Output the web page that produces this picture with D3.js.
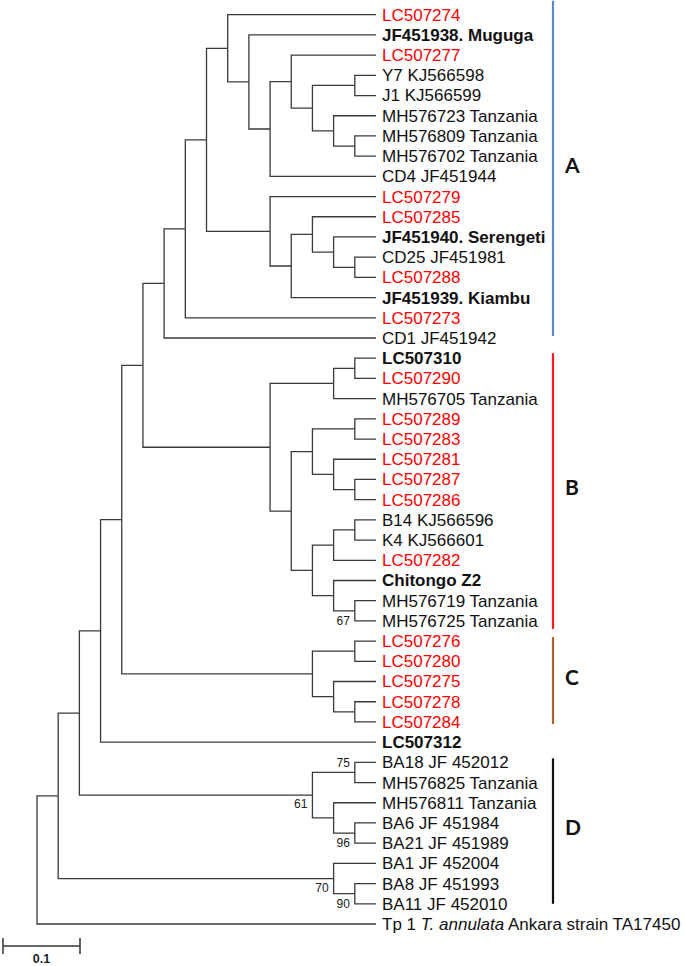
<!DOCTYPE html>
<html>
<head>
<meta charset="utf-8">
<script src="https://cdn.jsdelivr.net/npm/d3@7"></script>
<style>
  html, body { margin: 0; padding: 0; background: #fff; }
  svg { display: block; }
</style>
</head>
<body>
<svg id="chart" width="685" height="966"></svg>
<script>
// ---------------- DATA ----------------
// Clade A (nested topology, leaves are taxon names)
const cladeA_core = [["Y7 KJ566598", "J1 KJ566599"], ["MH576723 Tanzania", ["MH576809 Tanzania", "MH576702 Tanzania"]]];
const cladeA_sub1 = ["LC507274", ["JF451938. Muguga", [["LC507277", cladeA_core], "CD4 JF451944"]]];
const cladeA_sub2 = ["LC507279", [["LC507285", ["JF451940. Serengeti", ["CD25 JF451981", "LC507288"]]], "JF451939. Kiambu"]];
const cladeA = [[[cladeA_sub1, cladeA_sub2], "LC507273"], "CD1 JF451942"];
// Clade B
const cladeB = [
  [["LC507310", "LC507290"], "MH576705 Tanzania"],
  [
    [["LC507289", "LC507283"], ["LC507281", ["LC507287", "LC507286"]]],
    [[["B14 KJ566596", "K4 KJ566601"], "LC507282"], ["Chitongo Z2", ["MH576719 Tanzania", "MH576725 Tanzania"]]]
  ]
];
// Clade C
const cladeC = [["LC507276", "LC507280"], ["LC507275", ["LC507278", "LC507284"]]];
// Clade D (two groups)
const cladeD1 = [["BA18 JF 452012", "MH576825 Tanzania"], ["MH576811 Tanzania", ["BA6 JF 451984", "BA21 JF 451989"]]];
const cladeD2 = ["BA1 JF 452004", ["BA8 JF 451993", "BA11 JF 452010"]];
const outgroup = "Tp 1 T. annulata Ankara strain TA17450";
// whole tree
const treeData = [[[[[[cladeA, cladeB], cladeC], "LC507312"], cladeD1], cladeD2], outgroup];

// Sequences from this study (red) and reference strains (bold)
const studyIsolates = ["LC507274","LC507277","LC507279","LC507285","LC507288","LC507273","LC507290",
  "LC507289","LC507283","LC507281","LC507287","LC507286","LC507282",
  "LC507276","LC507280","LC507275","LC507278","LC507284"];
const referenceStrains = ["JF451938. Muguga","JF451940. Serengeti","JF451939. Kiambu","LC507310","Chitongo Z2","LC507312"];

// Bootstrap values: value and two leaves whose common ancestor carries it
const bootValues = [75, 96, 90, 67, 61, 70];
const bootNodes = [
  ["BA18 JF 452012", "MH576825 Tanzania"],
  ["BA6 JF 451984", "BA21 JF 451989"],
  ["BA8 JF 451993", "BA11 JF 452010"],
  ["MH576719 Tanzania", "MH576725 Tanzania"],
  ["BA18 JF 452012", "BA21 JF 451989"],
  ["BA1 JF 452004", "BA11 JF 452010"]
];

// Clade bars: label, first leaf, last leaf
const cladeLabels = ["A", "B", "C", "D"];
const cladeFirst = ["LC507274", "LC507310", "LC507276", "BA18 JF 452012"];
const cladeLast = ["CD1 JF451942", "MH576725 Tanzania", "LC507284", "BA11 JF 452010"];

// Scale bar
const scaleBarValue = 0.1;

// ---------------- STYLE ----------------
const cladeColors = { A: "#5b8ac8", B: "#ff1a1a", C: "#a8622a", D: "#111111" };
const cladePad = { A: [-14, -2], B: [-5, 8], C: [-4, 2], D: [-4, 0] };
const bootDy = [-10, 10, 10, 10, 9, 9];
const lineColor = "#3a3a3a";

// ---------------- LAYOUT ----------------
const svg = d3.select("#chart");
const root = d3.hierarchy(treeData, d => Array.isArray(d) ? d : null);
d3.cluster().nodeSize([1, 1]).separation(() => 1)(root);

const leaves = root.leaves();
const y = d3.scaleLinear()
  .domain([leaves[0].x, leaves[leaves.length - 1].x])
  .range([14.7, 924]);
const x = d3.scaleLinear()
  .domain([0, root.height])
  .range([37, 376]);

// branches (elbow)
const g = svg.append("g");
g.selectAll("path.branch")
  .data(root.links())
  .join("path")
  .attr("class", "branch")
  .attr("fill", "none")
  .attr("stroke", lineColor)
  .attr("stroke-width", 1.3)
  .attr("d", l => `M${x(l.source.y)},${y(l.source.x)}V${y(l.target.x)}H${x(l.target.y)}`);

// leaf labels
const labelX = x(root.height) + 6;
const fontFam = "'Liberation Sans', Arial, sans-serif";
const lbl = g.selectAll("text.leaf")
  .data(leaves)
  .join("text")
  .attr("class", "leaf")
  .attr("x", labelX)
  .attr("y", d => y(d.x))
  .attr("dy", "0.35em")
  .attr("font-family", fontFam)
  .attr("font-size", 17)
  .attr("fill", d => studyIsolates.includes(d.data) ? "#ff0000" : "#111")
  .attr("font-weight", d => referenceStrains.includes(d.data) ? "bold" : "normal");

lbl.each(function(d) {
  const t = d3.select(this);
  if (d.data === outgroup) {
    t.append("tspan").text("Tp 1 ");
    t.append("tspan").attr("font-style", "italic").text("T. annulata");
    t.append("tspan").text(" Ankara strain TA17450");
  } else {
    t.text(d.data);
  }
});

// bootstrap values
const leafByName = new Map(leaves.map(l => [l.data, l]));
function lca(a, b) {
  const anc = a.ancestors();
  return b.ancestors().find(n => anc.includes(n));
}
bootValues.forEach((v, i) => {
  const n = lca(leafByName.get(bootNodes[i][0]), leafByName.get(bootNodes[i][1]));
  g.append("text")
    .attr("x", x(n.y) - 5)
    .attr("y", y(n.x) + bootDy[i])
    .attr("dy", "0.35em")
    .attr("text-anchor", "end")
    .attr("font-family", fontFam)
    .attr("font-size", 12)
    .attr("fill", "#1a1a1a")
    .text(v);
});

// clade bars and labels
const barX = 553;
cladeLabels.forEach((c, i) => {
  const y0 = y(leafByName.get(cladeFirst[i]).x) + cladePad[c][0];
  const y1 = y(leafByName.get(cladeLast[i]).x) + cladePad[c][1];
  g.append("line")
    .attr("x1", barX).attr("x2", barX)
    .attr("y1", y0).attr("y2", y1)
    .attr("stroke", cladeColors[c])
    .attr("stroke-width", 2.2);
  g.append("text")
    .attr("x", 565)
    .attr("y", (y0 + y1) / 2 - 3)
    .attr("dy", "0.35em")
    .attr("font-family", "Lato, 'Open Sans', sans-serif")
    .attr("font-weight", "bold")
    .attr("font-size", 21)
    .attr("fill", "#111")
    .text(c);
});

// scale bar
const sx = d3.scaleLinear().domain([0, scaleBarValue]).range([3, 80]);
const sb = svg.append("g").attr("stroke", "#333").attr("stroke-width", 1.5);
sb.append("line").attr("x1", sx(0)).attr("x2", sx(scaleBarValue)).attr("y1", 946).attr("y2", 946);
sb.append("line").attr("x1", sx(0)).attr("x2", sx(0)).attr("y1", 938).attr("y2", 954);
sb.append("line").attr("x1", sx(scaleBarValue)).attr("x2", sx(scaleBarValue)).attr("y1", 938).attr("y2", 954);
svg.append("text")
  .attr("x", (sx(0) + sx(scaleBarValue)) / 2)
  .attr("y", 963)
  .attr("text-anchor", "middle")
  .attr("font-family", fontFam)
  .attr("font-weight", "bold")
  .attr("font-size", 12.5)
  .attr("fill", "#222")
  .text(scaleBarValue);
</script>
</body>
</html>
